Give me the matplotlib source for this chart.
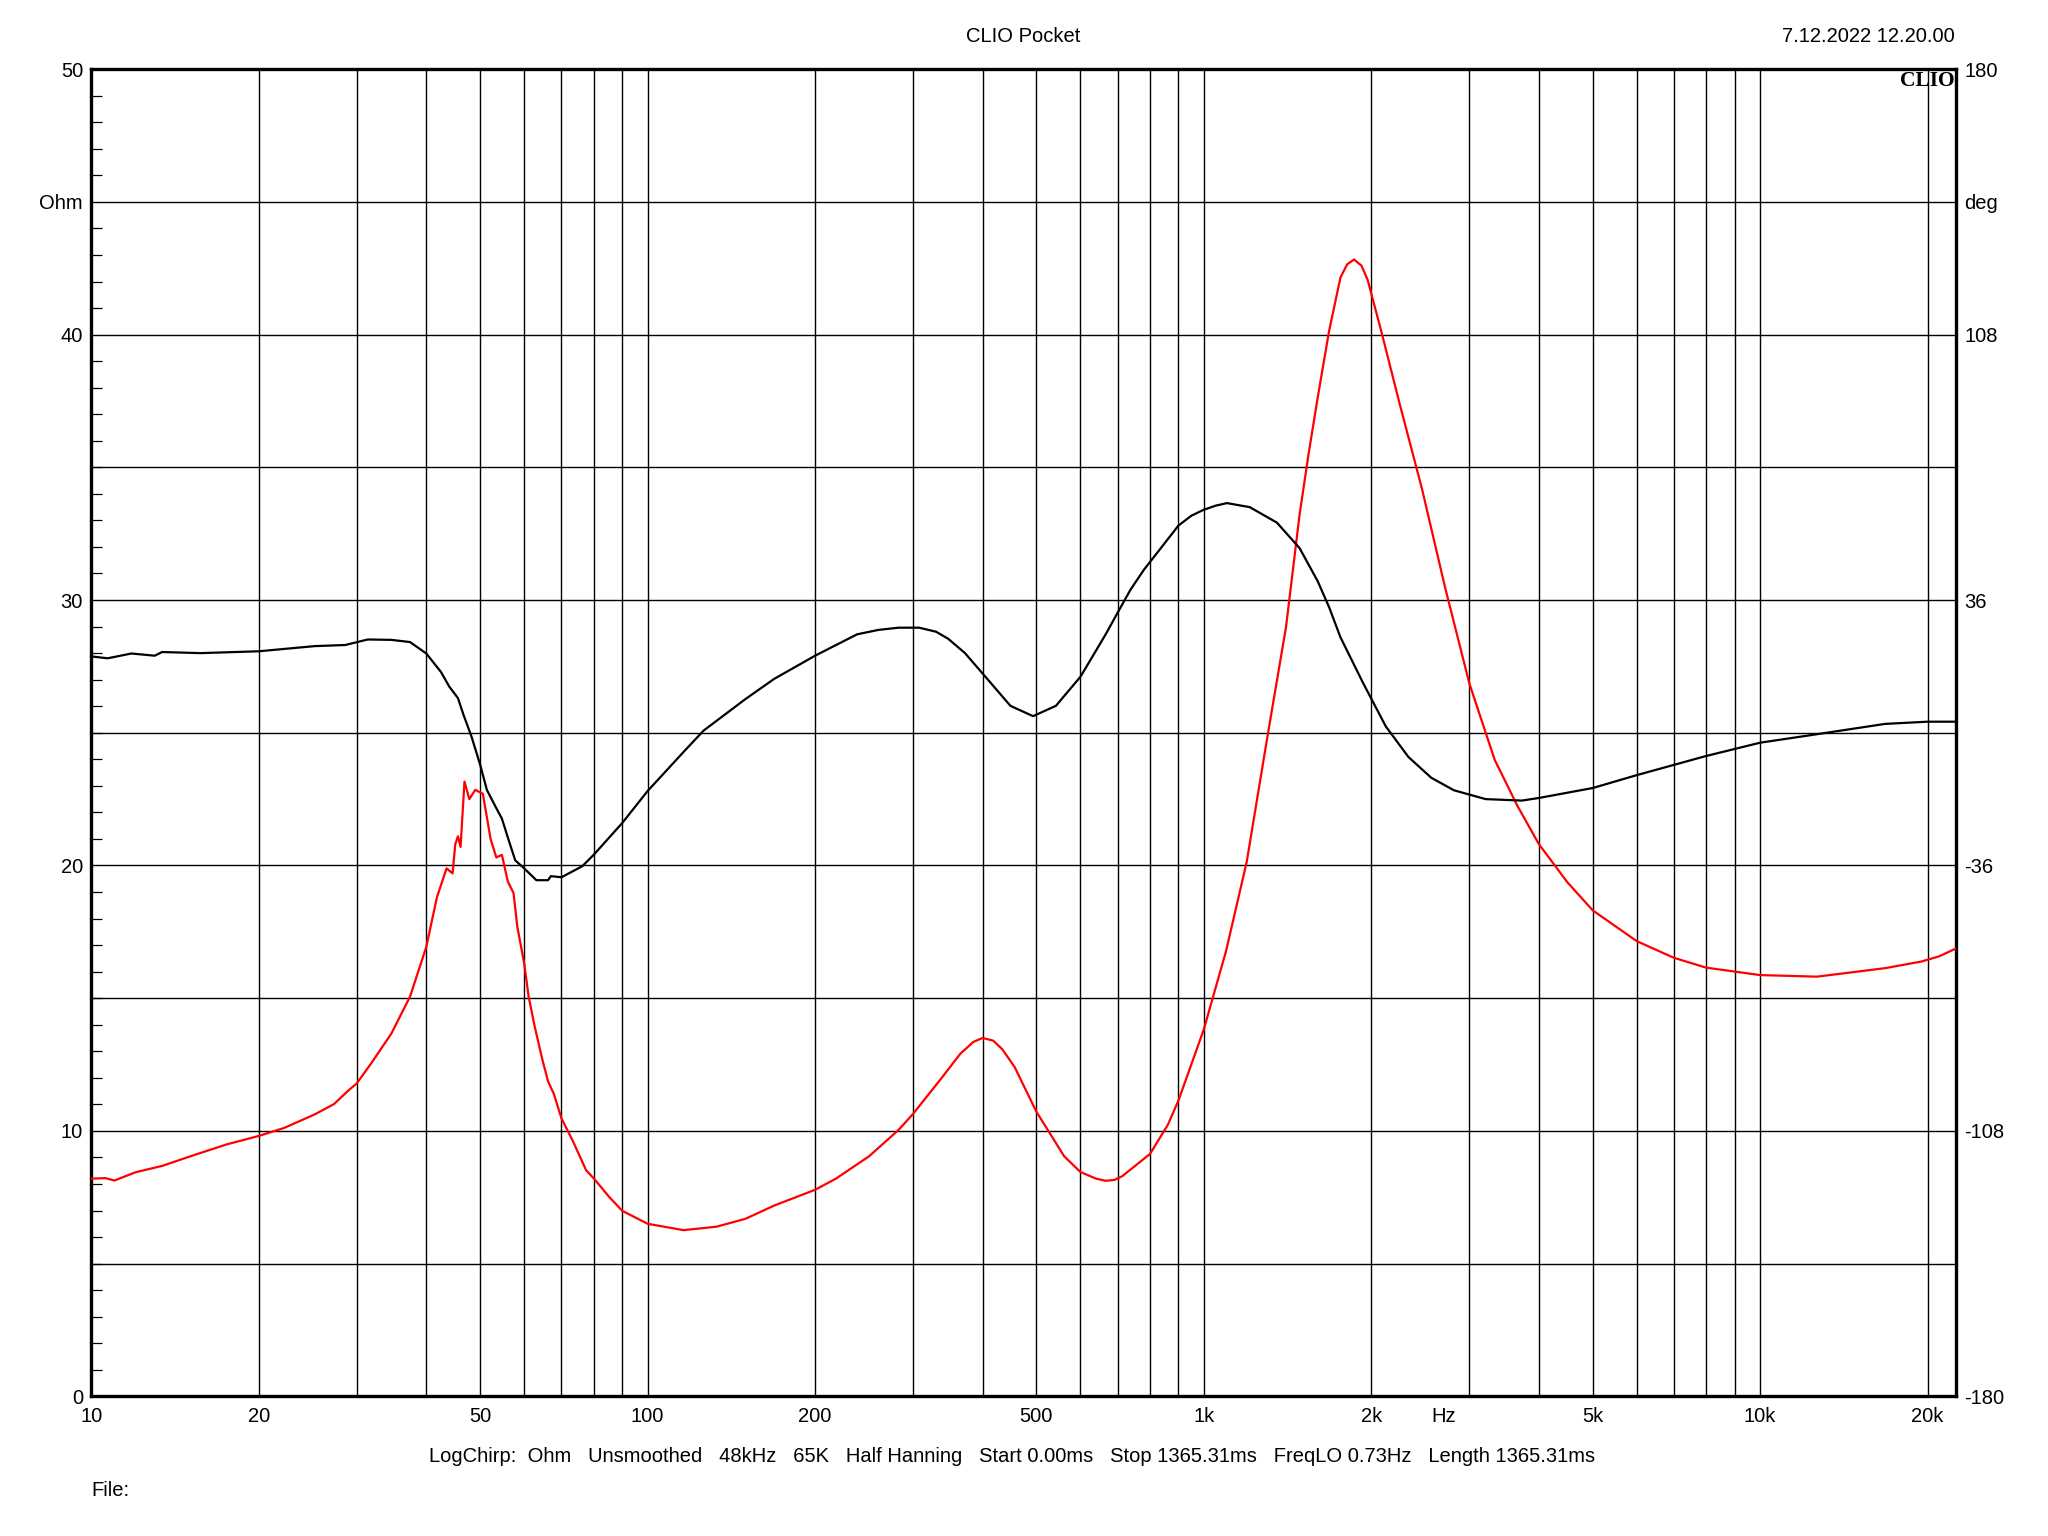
import matplotlib
matplotlib.use("Agg")
import matplotlib.pyplot as plt
from matplotlib.ticker import MultipleLocator, NullLocator

plt.rcParams['font.family'] = ['Liberation Sans', 'DejaVu Sans']

# impedance magnitude (red, left axis, Ohm)
freq_ohm = [10, 10.6, 11, 12, 13.4, 15.2, 17.5, 20, 22.2, 25.2, 27.3, 29, 30, 31.9,
            34.6, 37.4, 40, 41.8, 43.5, 44.6, 45.1, 45.6, 46.1, 46.85, 47.8, 49,
            50.55, 52.2, 53.45, 54.7, 56.05, 57.4, 58.3, 60, 61.1, 62.6, 64.6, 66.2,
            67.8, 70, 73.4, 77.5, 80, 85.3, 90, 100, 116, 133, 150, 169, 200, 218,
            250, 283, 300, 335, 365, 385, 400, 418, 434, 457, 500, 561, 600, 640,
            666, 690, 713, 800, 861, 900, 1000, 1096, 1194, 1303, 1405, 1486, 1543,
            1602, 1679, 1760, 1810, 1862, 1920, 1970, 2084, 2246, 2468, 2711, 3000,
            3333, 3661, 4000, 4502, 5000, 6000, 7000, 8000, 10000, 12650, 16770,
            19490, 21010, 22640]
ohm = [8.2, 8.22, 8.13, 8.44, 8.68, 9.07, 9.49, 9.81, 10.11, 10.62, 11.01, 11.53,
       11.79, 12.57, 13.66, 15.06, 16.93, 18.8, 19.89, 19.7, 20.8, 21.1, 20.7, 23.16,
       22.5, 22.85, 22.7, 21.0, 20.3, 20.4, 19.4, 18.96, 17.7, 16.3, 15.06, 13.97,
       12.73, 11.87, 11.4, 10.47, 9.61, 8.52, 8.21, 7.51, 6.99, 6.5, 6.26, 6.39,
       6.69, 7.19, 7.78, 8.2, 9.04, 10.05, 10.64, 11.9, 12.91, 13.35, 13.5, 13.4,
       13.08, 12.4, 10.72, 9.04, 8.45, 8.2, 8.12, 8.15, 8.29, 9.13, 10.22, 11.14,
       13.83, 16.77, 20.13, 24.94, 28.98, 33.21, 35.52, 37.63, 40.13, 42.15, 42.65,
       42.83, 42.6, 42.06, 40.13, 37.44, 34.17, 30.52, 26.87, 23.98, 22.25, 20.81,
       19.37, 18.31, 17.15, 16.52, 16.15, 15.87, 15.81, 16.13, 16.38, 16.58, 16.9]

# impedance phase (black, right axis, deg)
freq_deg = [10, 10.7, 11.8, 13, 13.4, 15.7, 20, 25.2, 28.6, 31.4, 34.6, 37.4, 40,
            42.5, 44, 45.6, 46.7, 48.2, 50, 51.4, 53, 54.7, 56.5, 57.8, 60, 63.1,
            66.2, 67, 70, 76.3, 80, 90, 100, 116.7, 126.1, 149.8, 168.8, 200, 238,
            260, 282.6, 307.8, 330, 347, 372, 400, 449, 493, 542, 600, 666, 700, 738,
            780, 833, 900, 950, 1000, 1050, 1100, 1209, 1353, 1486, 1602, 1680, 1760,
            1933, 2124, 2333, 2563, 2815, 3210, 3730, 4000, 5000, 6000, 8000, 10000,
            12650, 16770, 20000, 22640]
deg = [20.7, 20.2, 21.5, 20.9, 21.9, 21.6, 22.1, 23.5, 23.8, 25.3, 25.2, 24.6, 21.5,
       16.5, 12.5, 9.4, 4.7, -0.9, -8.7, -15.5, -19.4, -23.3, -30.0, -34.6, -36.8,
       -40.0, -40.0, -38.9, -39.2, -36.2, -33.1, -24.5, -15.8, -4.8, 0.6, 9.1, 14.6,
       20.9, 26.7, 27.9, 28.5, 28.5, 27.4, 25.5, 21.6, 16.1, 7.3, 4.5, 7.3, 15.2,
       26.7, 32.6, 38.8, 44.2, 49.7, 56.2, 58.9, 60.5, 61.6, 62.3, 61.2, 57.0, 50.1,
       41.1, 34.0, 25.9, 13.5, 1.7, -6.6, -12.2, -15.6, -18.0, -18.4, -17.7, -15.0,
       -11.5, -6.3, -2.7, -0.4, 2.4, 3.0, 3.0]

x_ticks = [10, 20, 50, 100, 200, 500, 1000, 2000, 2700, 5000, 10000, 20000]
x_labels = ['10', '20', '50', '100', '200', '500', '1k', '2k', 'Hz', '5k', '10k', '20k']
grid_freqs = ([20, 30, 40, 50, 60, 70, 80, 90, 100] +
              [200, 300, 400, 500, 600, 700, 800, 900, 1000] +
              [2000, 3000, 4000, 5000, 6000, 7000, 8000, 9000, 10000, 20000])
ohm_ticks = [0, 10, 20, 30, 40, 45, 50]
ohm_labels = ['0', '10', '20', '30', '40', 'Ohm', '50']
deg_ticks = [-180, -108, -36, 36, 108, 144, 180]
deg_labels = ['-180', '-108', '-36', '36', '108', 'deg', '180']

W, H = 2048, 1536
fs = 14.5

fig = plt.figure(figsize=(W / 100, H / 100), dpi=100)
ax = fig.add_axes([91.4 / W, 1 - 1396.3 / H, (1956 - 91.4) / W, (1396.3 - 69.2) / H])
ax.set_xscale('log')
ax.set_xlim(10, 22500)
ax.set_ylim(0, 50)

for f in grid_freqs:
    ax.axvline(f, color='black', lw=1.0, zorder=1)
for v in range(5, 50, 5):
    ax.axhline(v, color='black', lw=1.0, zorder=1)

ax.plot(freq_ohm, ohm, color='#ff0000', lw=1.6, zorder=3)

ax.set_xticks(x_ticks, x_labels)
ax.xaxis.set_minor_locator(NullLocator())
ax.tick_params(axis='x', length=0, pad=8, labelsize=fs)
ax.set_yticks(ohm_ticks, ohm_labels)
ax.yaxis.set_minor_locator(MultipleLocator(1))
ax.tick_params(axis='y', which='major', length=0, pad=6, labelsize=fs)
ax.tick_params(axis='y', which='minor', direction='in', length=8, width=0.9,
               left=True, right=True)
for s in ax.spines.values():
    s.set_linewidth(2.4)

ax2 = ax.twinx()
ax2.set_ylim(-180, 180)
ax2.plot(freq_deg, deg, color='black', lw=1.6, zorder=3)
ax2.set_yticks(deg_ticks, deg_labels)
ax2.tick_params(axis='y', length=0, pad=6, labelsize=fs)
for s in ax2.spines.values():
    s.set_visible(False)

ax.text(0.999, 0.999, 'CLIO', transform=ax.transAxes, ha='right', va='top',
        fontsize=15.5, fontweight='bold', family='Liberation Serif', zorder=5)

fig.text(1023 / W, 1 - 36 / H, 'CLIO Pocket', ha='center', va='center', fontsize=fs)
fig.text(1955 / W, 1 - 36 / H, '7.12.2022 12.20.00', ha='right', va='center', fontsize=fs)
fig.text(1012 / W, 1 - 1456 / H,
         'LogChirp:  Ohm   Unsmoothed   48kHz   65K   Half Hanning   Start 0.00ms   '
         'Stop 1365.31ms   FreqLO 0.73Hz   Length 1365.31ms',
         ha='center', va='center', fontsize=fs)
fig.text(91 / W, 1 - 1490 / H, 'File:', ha='left', va='center', fontsize=fs)

fig.savefig('out.png', dpi=100)
